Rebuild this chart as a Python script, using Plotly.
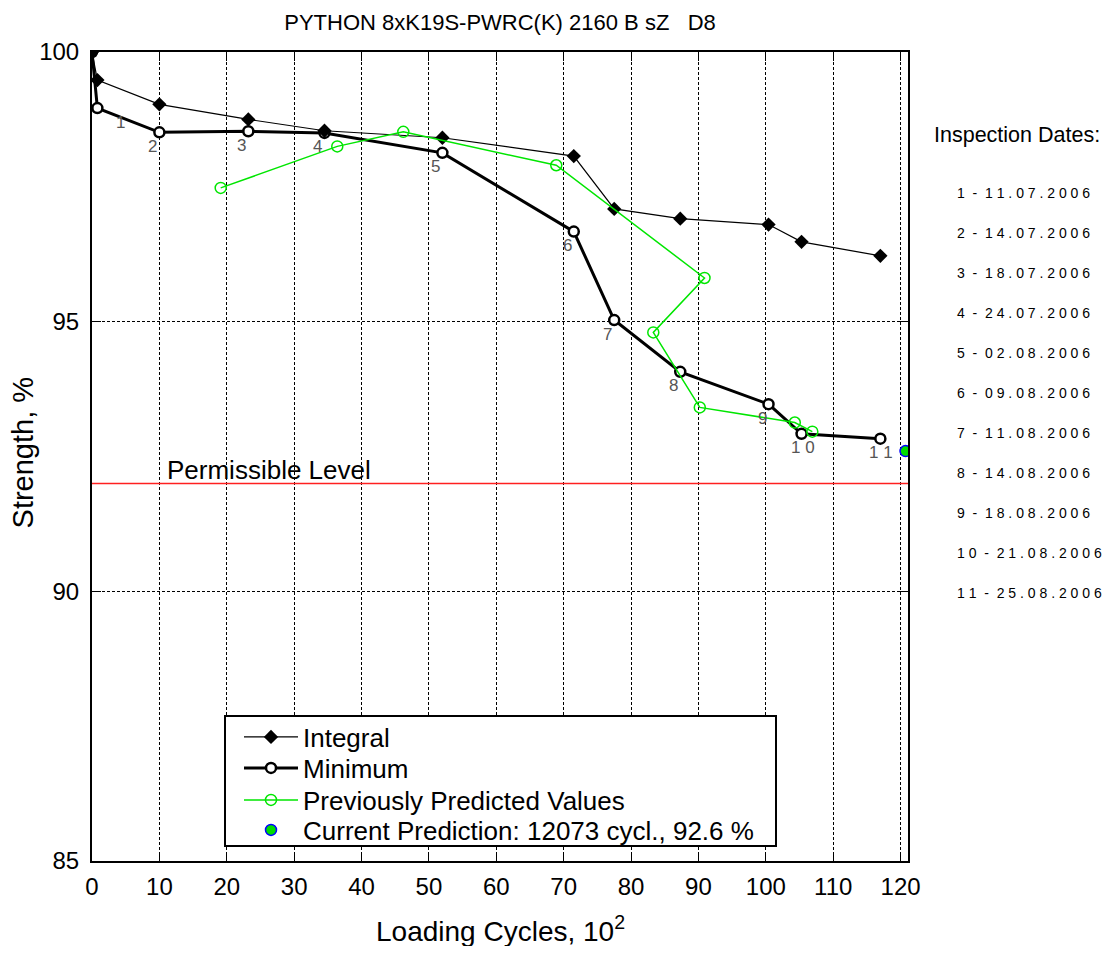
import plotly.graph_objects as go

# ---------------- data ----------------
TITLE = "PYTHON 8xK19S-PWRC(K) 2160 B sZ   D8"

cycles = [0, 0.8, 10.0, 23.2, 34.5, 52.0, 71.5, 77.5, 87.3, 100.4, 105.3, 117.0]
integral = [100, 99.48, 99.03, 98.75, 98.54, 98.41, 98.07, 97.09, 96.91, 96.80, 96.48, 96.22]
minimum = [100, 98.96, 98.51, 98.53, 98.50, 98.13, 96.67, 95.03, 94.07, 93.47, 92.92, 92.83]

pred_cycles = [19.1, 36.4, 46.2, 68.9, 90.9, 83.3, 90.2, 104.3, 106.9]
pred_values = [97.48, 98.25, 98.52, 97.90, 95.81, 94.80, 93.41, 93.13, 92.96]

current_cycles = [120.73]
current_value = [92.6]

permissible_level = 92.0

inspection_labels = ["1", "2", "3", "4", "5", "6", "7", "8", "9", "1 0", "1 1"]
inspection_dates = ["11.07.2006", "14.07.2006", "18.07.2006", "24.07.2006",
                    "02.08.2006", "09.08.2006", "11.08.2006", "14.08.2006",
                    "18.08.2006", "21.08.2006", "25.08.2006"]

x_ticks = list(range(0, 121, 10))
y_ticks = [85, 90, 95, 100]

# ---------------- style / layout geometry ----------------
FONT = "Liberation Sans, Arial, sans-serif"
GREEN = "#00e600"
OFF = 8                       # page body margin of the html page
W, H = 1096, 938
ML, MR, MT, MB = 84, 196, 44, 85
PL, PT = OFF + ML, OFF + MT                 # absolute plot left / top
PW, PH = W - ML - MR, H - MT - MB           # plot width / height
PB = PT + PH                                # absolute plot bottom


def px(xa):
    return (xa - PL) / PW


def py(ya):
    return (PB - ya) / PH


fig = go.Figure()

fig.add_trace(go.Scatter(
    x=cycles, y=minimum, name="Minimum", mode="lines+markers",
    line=dict(color="black", width=3),
    marker=dict(symbol="circle", size=10, color="white",
                line=dict(color="black", width=2.5)),
    legend="legend2"))

fig.add_trace(go.Scatter(
    x=cycles, y=integral, name="Integral", mode="lines+markers",
    line=dict(color="black", width=1.2),
    marker=dict(symbol="diamond", size=11, color="black"),
    legend="legend"))

fig.add_trace(go.Scatter(
    x=pred_cycles, y=pred_values, name="Previously Predicted Values",
    mode="lines+markers",
    line=dict(color=GREEN, width=1.5),
    marker=dict(symbol="circle-open", size=11, color=GREEN,
                line=dict(color=GREEN, width=1.5)),
    legend="legend3"))

fig.add_trace(go.Scatter(
    x=current_cycles, y=current_value,
    name="Current Prediction: %d cycl., %.1f %%" % (round(current_cycles[0] * 100), current_value[0]),
    mode="markers",
    marker=dict(symbol="circle", size=11, color="#00dd00",
                line=dict(color="#0000ff", width=1.5)),
    legend="legend4"))

# permissible level line
fig.add_shape(type="line", xref="x domain", yref="y", x0=0, x1=1,
              y0=permissible_level, y1=permissible_level,
              line=dict(color="#ff2020", width=1.5), layer="above")

# legend frame
fig.add_shape(type="rect", xref="paper", yref="paper",
              x0=px(225), x1=px(776), y0=py(846), y1=py(716),
              line=dict(color="black", width=2), fillcolor="white", layer="above")

annotations = []
annotations.append(dict(xref="paper", yref="y", x=px(165), y=permissible_level,
                        text="Permissible Level", showarrow=False,
                        xanchor="left", yanchor="bottom", yshift=-4,
                        font=dict(family=FONT, size=26, color="black")))

# inspection number labels
for i, lab in enumerate(inspection_labels):
    annotations.append(dict(
        x=cycles[i + 1], y=minimum[i + 1], text=lab, showarrow=False,
        xanchor="left", yanchor="middle",
        xshift=17 if i == 0 else -13, yshift=-14,
        font=dict(family=FONT, size=17, color="#555555")))

# inspection dates panel
annotations.append(dict(xref="paper", yref="paper", x=px(932), y=py(135),
                        text="Inspection Dates:", showarrow=False,
                        xanchor="left", yanchor="middle",
                        font=dict(family=FONT, size=21.5, color="black")))
NB = "\u00a0"
for i, d in enumerate(inspection_dates):
    txt = " ".join(list(str(i + 1))) + NB * 2 + "-" + NB * 2 + " ".join(list(d))
    annotations.append(dict(xref="paper", yref="paper",
                            x=px(955), y=py(193 + 40 * i),
                            text=txt, showarrow=False,
                            xanchor="left", yanchor="middle",
                            font=dict(family=FONT, size=14, color="black")))

# axis titles
annotations.append(dict(xref="paper", yref="paper", x=0.5, y=0, yshift=-68,
                        text="Loading Cycles, 10<sup>2</sup>", showarrow=False,
                        xanchor="center", yanchor="middle",
                        font=dict(family=FONT, size=28, color="black")))
annotations.append(dict(xref="paper", yref="paper", x=0, xshift=-(PL - 23), y=0.505,
                        text="Strength, %", showarrow=False, textangle=-90,
                        xanchor="center", yanchor="middle",
                        font=dict(family=FONT, size=29, color="black")))

axis_common = dict(
    showline=True, linecolor="black", linewidth=2, mirror="ticks",
    ticks="inside", ticklen=9, tickwidth=1, tickcolor="black",
    showgrid=True, gridcolor="black", gridwidth=1, griddash="3px,2px",
    zeroline=False, tickfont=dict(family=FONT, size=24, color="black"),
)

fig.update_xaxes(range=[0, 121.1], tickvals=x_ticks, ticklabelstandoff=3, **axis_common)
fig.update_yaxes(range=[85, 100], tickvals=y_ticks, ticklabelstandoff=6, **axis_common)

legend_common = dict(xanchor="left", yanchor="middle", x=px(239),
                     bgcolor="rgba(0,0,0,0)", borderwidth=0, itemwidth=54,
                     font=dict(family=FONT, size=26, color="black"))

fig.update_layout(
    width=W, height=H,
    margin=dict(l=ML, r=MR, t=MT, b=MB),
    paper_bgcolor="white", plot_bgcolor="white",
    title=dict(text=TITLE, x=(PL + PW / 2 - OFF) / W, xanchor="center",
               y=1 - (22.5 - OFF) / H, yanchor="middle", yref="container",
               font=dict(family=FONT, size=22, color="black")),
    legend=dict(y=py(737), **legend_common),
    legend2=dict(y=py(768), **legend_common),
    legend3=dict(y=py(800), **legend_common),
    legend4=dict(y=py(830), **legend_common),
    annotations=annotations,
    showlegend=True,
)

fig.write_html("out.html")
